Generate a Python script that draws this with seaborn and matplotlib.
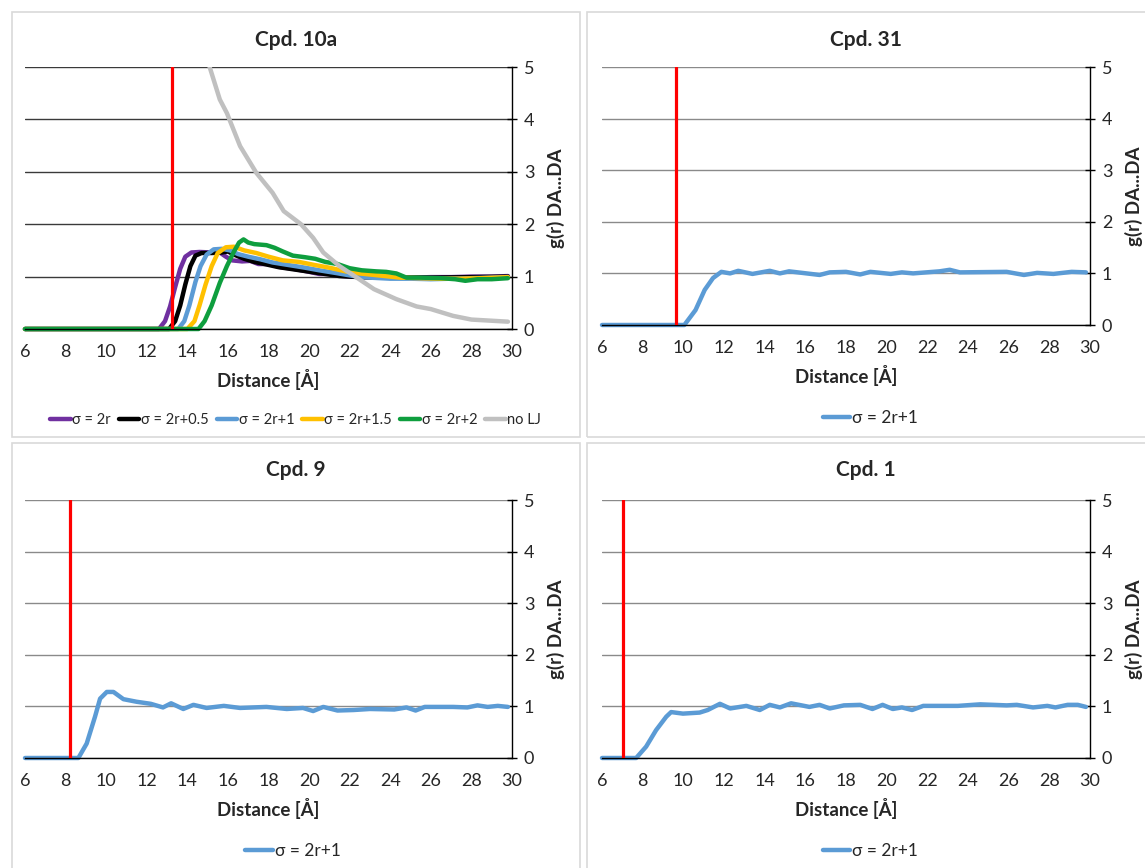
import matplotlib
matplotlib.use("Agg")
import matplotlib.pyplot as plt
import seaborn as sns
import pandas as pd
from matplotlib.patches import Rectangle

sns.set_style("white")
plt.rcParams['font.family'] = ['Lato', 'DejaVu Sans']

W, H = 1145, 868

# ------------------------------------------------------------------
# data (distance in Å, g(r))
# ------------------------------------------------------------------
# Cpd. 10a
x_2r = [6, 12.6, 12.9, 13.15, 13.4, 13.65, 13.9, 14.2, 14.6, 15.2, 15.6, 15.9, 16.2, 16.7, 17.1, 17.5,
        18.0, 18.6, 19.2, 19.9, 20.5, 21.0, 21.4, 22, 23, 24, 25, 26, 27, 28, 29, 29.8]
y_2r = [0, 0, 0.15, 0.43, 0.8, 1.15, 1.38, 1.46, 1.47, 1.46, 1.46, 1.38, 1.31, 1.29, 1.3, 1.24,
        1.24, 1.18, 1.15, 1.1, 1.05, 1.05, 1.02, 1.0, 0.99, 0.98, 0.98, 0.99, 0.99, 1.0, 1.0, 1.01]

x_2r05 = [6, 13.1, 13.4, 13.65, 13.9, 14.15, 14.4, 14.7, 15.2, 15.7, 16.0, 16.3, 16.8, 17.3, 17.8,
          18.5, 19.2, 19.9, 20.6, 21.5, 22.5, 24, 26, 28, 29.8]
y_2r05 = [0, 0, 0.15, 0.45, 0.85, 1.2, 1.4, 1.45, 1.45, 1.46, 1.48, 1.42, 1.34, 1.28, 1.24,
          1.18, 1.14, 1.1, 1.06, 1.01, 0.99, 0.98, 0.98, 0.99, 1.0]

x_2r1 = [6, 13.55, 13.85, 14.1, 14.4, 14.65, 14.95, 15.3, 15.7, 16.1, 16.5, 17.0, 17.6, 18.2, 19.0,
         19.8, 20.5, 21.3, 22.2, 23, 24, 25, 26, 27, 28, 29, 29.8]
y_2r1 = [0, 0, 0.15, 0.45, 0.9, 1.2, 1.42, 1.52, 1.53, 1.5, 1.43, 1.38, 1.33, 1.27, 1.22,
         1.17, 1.12, 1.07, 1.01, 0.98, 0.96, 0.96, 0.95, 0.96, 0.97, 0.98, 0.99]

x_2r15 = [6, 14.0, 14.35, 14.6, 14.9, 15.2, 15.5, 15.9, 16.3, 16.8, 17.4, 18.0, 18.7, 19.5, 20.3,
          21.0, 21.8, 22.5, 23.5, 24.5, 25.5, 26.5, 27.5, 28.5, 29.8]
y_2r15 = [0, 0, 0.15, 0.45, 0.85, 1.2, 1.45, 1.56, 1.57, 1.5, 1.45, 1.38, 1.31, 1.28, 1.22,
          1.17, 1.1, 1.06, 1.02, 0.98, 0.97, 0.96, 0.96, 0.97, 0.99]

x_2r2 = [6, 14.55, 14.85, 15.2, 15.6, 15.95, 16.3, 16.55, 16.77, 17.0, 17.3, 17.9, 18.3, 18.7, 19.2,
         19.8, 20.3, 20.8, 21.4, 22.0, 22.6, 23.3, 23.8, 24.3, 24.8, 25.5, 26.5, 27.2, 27.7, 28.3,
         29.0, 29.8]
y_2r2 = [0, 0, 0.15, 0.45, 0.88, 1.2, 1.48, 1.65, 1.71, 1.65, 1.62, 1.6, 1.55, 1.48, 1.4,
         1.37, 1.34, 1.28, 1.24, 1.16, 1.12, 1.1, 1.09, 1.06, 0.98, 0.98, 0.97, 0.95, 0.92, 0.95,
         0.95, 0.97]

x_nolj = [14.9, 15.1, 15.6, 15.95, 16.6, 17.4, 18.2, 18.75, 19.6, 20.2, 20.7, 21.5, 22.2, 23.2,
          24.3, 25.3, 26.0, 27.1, 28.0, 29.8]
y_nolj = [5.5, 5.0, 4.38, 4.12, 3.49, 2.98, 2.6, 2.25, 2.0, 1.74, 1.46, 1.2, 1.02, 0.76,
          0.57, 0.43, 0.38, 0.25, 0.18, 0.14]

# Cpd. 31
x_c31 = [6, 10.05, 10.6, 11.05, 11.46, 11.87, 12.3, 12.7, 13.4, 14.25, 14.75, 15.2, 16.7, 17.2,
         18.0, 18.7, 19.2, 20.2, 20.75, 21.3, 22.6, 23.1, 23.6, 25.9, 26.75, 27.4, 28.2, 29.1, 29.8]
y_c31 = [0, 0, 0.29, 0.68, 0.91, 1.03, 1.0, 1.05, 0.99, 1.05, 1.0, 1.04, 0.97, 1.02,
         1.03, 0.98, 1.03, 0.99, 1.02, 1.0, 1.04, 1.07, 1.02, 1.03, 0.97, 1.01, 0.99, 1.03, 1.02]

# Cpd. 9
x_c9 = [6, 8.63, 9.04, 9.45, 9.7, 10.03, 10.36, 10.85, 11.5, 12.2, 12.8, 13.2, 13.8, 14.3, 14.95,
        15.8, 16.6, 17.9, 18.9, 19.7, 20.2, 20.7, 21.4, 22.2, 23.0, 24.2, 24.8, 25.25, 25.7, 27.1,
        27.8, 28.3, 28.8, 29.3, 29.8]
y_c9 = [0, 0, 0.28, 0.8, 1.15, 1.28, 1.28, 1.14, 1.09, 1.05, 0.98, 1.06, 0.95, 1.03, 0.97,
        1.01, 0.97, 0.99, 0.95, 0.97, 0.91, 0.99, 0.92, 0.93, 0.95, 0.94, 0.98, 0.92, 0.99, 0.99,
        0.98, 1.02, 0.99, 1.01, 0.99]

# Cpd. 1
x_c1 = [6, 7.68, 8.17, 8.66, 9.16, 9.4, 9.98, 10.8, 11.2, 11.8, 12.3, 13.1, 13.76, 14.25, 14.75,
        15.3, 16.2, 16.7, 17.2, 17.9, 18.7, 19.3, 19.8, 20.3, 20.75, 21.25, 21.8, 23.5, 24.6, 25.9,
        26.4, 27.2, 27.9, 28.3, 28.9, 29.4, 29.8]
y_c1 = [0, 0, 0.22, 0.54, 0.8, 0.89, 0.86, 0.88, 0.93, 1.05, 0.96, 1.01, 0.93, 1.03, 0.98,
        1.06, 0.99, 1.03, 0.96, 1.02, 1.03, 0.95, 1.03, 0.95, 0.98, 0.93, 1.01, 1.01, 1.04, 1.02,
        1.03, 0.98, 1.01, 0.98, 1.03, 1.03, 0.99]

titles = ['Cpd. 10a', 'Cpd. 31', 'Cpd. 9', 'Cpd. 1']
cutoffs = [13.24, 9.64, 8.22, 7.03]

purple, black, blue, yellow, green, grey = '#7030A0', '#000000', '#5B9BD5', '#FFC000', '#0E9E3E', '#C0C0C0'

series_10a = [
    ('σ = 2r', x_2r, y_2r, purple),
    ('σ = 2r+0.5', x_2r05, y_2r05, black),
    ('σ = 2r+1', x_2r1, y_2r1, blue),
    ('σ = 2r+1.5', x_2r15, y_2r15, yellow),
    ('σ = 2r+2', x_2r2, y_2r2, green),
    ('no LJ', x_nolj, y_nolj, grey),
]
panel_series = [
    series_10a,
    [('σ = 2r+1', x_c31, y_c31, blue)],
    [('σ = 2r+1', x_c9, y_c9, blue)],
    [('σ = 2r+1', x_c1, y_c1, blue)],
]

# axes boxes in pixels: left, right, top, bottom
boxes = [(25, 512, 67, 329), (602, 1090, 67, 325), (25, 512, 500, 758), (602, 1090, 500, 758)]
frames = [(12, 580, 12, 437), (587, 1150, 12, 437), (12, 580, 443, 873), (587, 1150, 443, 873)]
title_pos = [(296, 40), (866, 40), (296, 470), (866, 470)]
grid_cols = ['#3a3a3a', '#8a8a8a', '#8a8a8a', '#8a8a8a']

fig = plt.figure(figsize=(W / 100, H / 100), dpi=100)

for (l, r, t, b) in frames:
    fig.patches.append(Rectangle((l / W, 1 - b / H), (r - l) / W, (b - t) / H,
                                 transform=fig.transFigure, fill=False,
                                 edgecolor='#d9d9d9', lw=1.2))

for i in range(4):
    l, r, t, b = boxes[i]
    ax = fig.add_axes([l / W, 1 - b / H, (r - l) / W, (b - t) / H])
    for name, xs, ys, col in panel_series[i]:
        df = pd.DataFrame({'x': xs, 'y': ys})
        sns.lineplot(data=df, x='x', y='y', ax=ax, color=col, lw=3.2, label=name,
                     sort=False, estimator=None)
    for line in ax.lines:
        if line.get_color() != grey:
            line.set_clip_on(False)
        line.set_solid_joinstyle('round')
        line.set_solid_capstyle('round')
    ax.axvline(cutoffs[i], color='#FF0000', lw=2.3, zorder=5)

    ax.set_xlim(6, 30)
    ax.set_ylim(0, 5)
    ax.set_xticks(range(6, 31, 2))
    ax.set_yticks(range(0, 6))
    ax.yaxis.tick_right()
    ax.yaxis.set_label_position('right')
    for s in ['left', 'top']:
        ax.spines[s].set_visible(False)
    for s in ['right', 'bottom']:
        ax.spines[s].set_color('black')
        ax.spines[s].set_linewidth(1.0)
    ax.grid(axis='y', color=grid_cols[i], lw=1.0)
    ax.grid(axis='x', visible=False)
    ax.tick_params(axis='both', direction='inout', length=7, width=1, color='black',
                   labelsize=13, pad=5)
    ax.tick_params(axis='x', pad=7)
    ax.set_xlabel('Distance [Å]', fontsize=13.5, fontweight='bold', labelpad=7)
    ax.set_ylabel('g(r) DA...DA', fontsize=13.5, fontweight='bold', labelpad=9)

    fig.text(title_pos[i][0] / W, 1 - title_pos[i][1] / H, titles[i], fontsize=15,
             fontweight='bold', ha='center', va='center')

    if i == 0:
        ax.legend(loc='center', bbox_to_anchor=(0.556, -0.347), ncol=6, frameon=False,
                  fontsize=10.5, handlelength=1.4, handletextpad=0.1, columnspacing=0.55)
    else:
        ax.legend(loc='center', bbox_to_anchor=(0.55, -0.36), ncol=1, frameon=False,
                  fontsize=12.5, handlelength=1.6, handletextpad=0.1)

fig.savefig('out.png', dpi=100)
